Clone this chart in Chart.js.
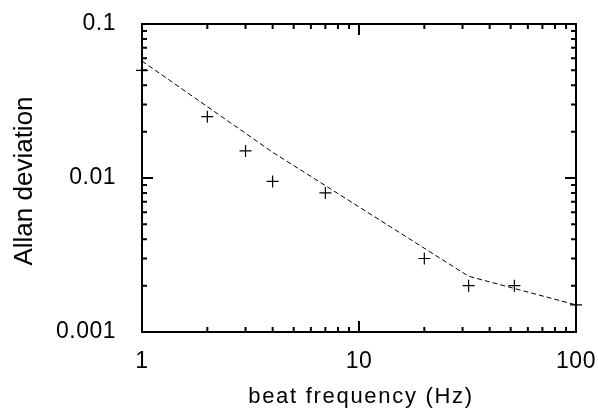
<!DOCTYPE html>
<html>
<head>
<meta charset="utf-8">
<script src="https://cdn.jsdelivr.net/npm/chart.js@4/dist/chart.umd.min.js"></script>
<style>
  html, body { margin: 0; padding: 0; background: #fff; }
  #wrap { width: 598px; height: 408px; }
</style>
</head>
<body>
<div id="wrap"><canvas id="allanChart" width="598" height="408"></canvas></div>
<script>
// measured points (beat frequency in Hz, Allan deviation)
const freqs = [1, 2, 3, 4, 7, 20, 32, 52, 100];
const allanDev = [0.05, 0.025, 0.015, 0.0095, 0.008, 0.003, 0.002, 0.002, 0.0015];

// dashed model curve
const modelFreqs = [1, 4, 32, 100];
const modelDev = [0.0575, 0.0147, 0.0023, 0.0015];

// labelled ticks
const xTickLabels = [1, 10, 100];
const yTickLabels = [0.001, 0.01, 0.1];

const xTitle = 'beat frequency (Hz)';
const yTitle = 'Allan deviation';

const FAMILY = "'Liberation Sans', Arial, sans-serif";
const FONT = { family: FAMILY, size: 23 };

// gnuplot style frame with inward ticks on every side, plus the axis titles
const framePlugin = {
    id: 'frame',
    beforeDraw(chart) {
        chart.ctx.letterSpacing = '0.5px';
    },
    afterDraw(chart) {
        const { ctx, chartArea: a, scales } = chart;
        const logTicks = (min, max) => {
            const out = [];
            for (let d = Math.floor(Math.log10(min)); d <= Math.ceil(Math.log10(max)); d++) {
                for (let m = 1; m <= 9; m++) {
                    const v = m * Math.pow(10, d);
                    if (v >= min * 0.999 && v <= max * 1.001) out.push({ v, major: m === 1 });
                }
            }
            return out;
        };
        ctx.save();
        ctx.strokeStyle = '#000';
        ctx.lineWidth = 2;
        ctx.beginPath();
        logTicks(scales.x.min, scales.x.max).forEach(t => {
            const px = scales.x.getPixelForValue(t.v);
            const len = t.major ? 11 : 5;
            ctx.moveTo(px, a.bottom); ctx.lineTo(px, a.bottom - len);
            ctx.moveTo(px, a.top); ctx.lineTo(px, a.top + len);
        });
        logTicks(scales.y.min, scales.y.max).forEach(t => {
            const py = scales.y.getPixelForValue(t.v);
            const len = t.major ? 11 : 5;
            ctx.moveTo(a.left, py); ctx.lineTo(a.left + len, py);
            ctx.moveTo(a.right, py); ctx.lineTo(a.right - len, py);
        });
        ctx.stroke();
        ctx.strokeRect(a.left, a.top, a.right - a.left, a.bottom - a.top);

        // axis titles
        ctx.fillStyle = '#000';
        ctx.textAlign = 'center';
        ctx.textBaseline = 'alphabetic';
        ctx.letterSpacing = '1.7px';
        ctx.font = `22px ${FAMILY}`;
        ctx.fillText(xTitle, (a.left + a.right) / 2 + 2, 403);

        ctx.letterSpacing = '0px';
        ctx.font = `26px ${FAMILY}`;
        ctx.translate(32, 181);
        ctx.rotate(-Math.PI / 2);
        ctx.fillText(yTitle, 0, 0);
        ctx.restore();
    }
};

const ctx = document.getElementById('allanChart').getContext('2d');
new Chart(ctx, {
    type: 'scatter',
    data: {
        datasets: [{
            label: 'model',
            data: modelFreqs.map((f, i) => ({ x: f, y: modelDev[i] })),
            showLine: true,
            borderColor: '#000',
            borderWidth: 1,
            borderDash: [5, 3],
            pointRadius: 0,
            fill: false
        }, {
            label: 'measured',
            data: freqs.map((f, i) => ({ x: f, y: allanDev[i] })),
            pointStyle: 'cross',
            pointRadius: 6,
            borderColor: '#000',
            borderWidth: 1.2,
            clip: false
        }]
    },
    plugins: [framePlugin],
    options: {
        responsive: false,
        animation: false,
        layout: { padding: { top: 24, right: 22, left: 0, bottom: 0 } },
        plugins: { legend: { display: false }, tooltip: { enabled: false } },
        scales: {
            x: {
                type: 'logarithmic',
                min: 1,
                max: 100,
                grid: { display: false },
                border: { display: false },
                ticks: {
                    color: '#000',
                    font: FONT,
                    padding: 8,
                    maxRotation: 0,
                    autoSkip: false,
                    callback: v => xTickLabels.includes(v) ? String(v) : ''
                },
                afterFit: s => {
                    s.height = 76;
                    s.paddingLeft = 0;
                    s.paddingRight = 0;
                }
            },
            y: {
                type: 'logarithmic',
                min: 0.001,
                max: 0.1,
                grid: { display: false },
                border: { display: false },
                ticks: {
                    color: '#000',
                    font: FONT,
                    padding: 18,
                    autoSkip: false,
                    callback: v => yTickLabels.some(t => Math.abs(t - v) < t * 1e-6) ? String(v) : ''
                },
                afterFit: s => {
                    s.width = 142;
                    s.paddingTop = 0;
                    s.paddingBottom = 0;
                }
            }
        }
    }
});
</script>
</body>
</html>
